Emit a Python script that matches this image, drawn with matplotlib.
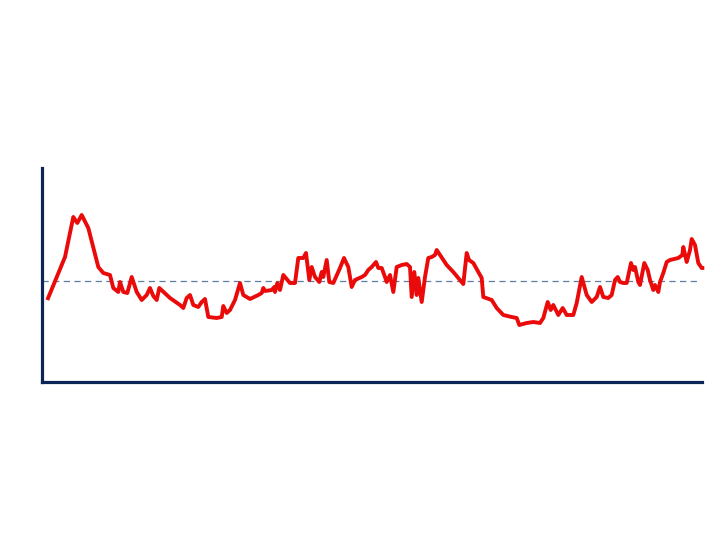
import matplotlib
matplotlib.use("Agg")
import matplotlib.pyplot as plt

# ── Data ──────────────────────────────────────────────────────────────────────
days = [5.3, 23, 31.3, 35.3, 39.7, 46.3, 56.3, 61.3, 68, 71.3, 76.3, 78, 81.3, 85.3,
        89.7, 94.7, 99.7, 104.7, 108, 111.3, 114.7, 117.3, 128, 138, 141.3, 144.7,
        148, 151.3, 156.3, 159.7, 163, 166.3, 174.7, 179.7, 181.3, 184.7, 188, 193,
        198, 201.3, 208, 216.3, 219.7, 221.3, 223, 229.7, 232.3, 233, 235.3, 238,
        241.3, 244.7, 248, 253, 256.3, 261.3, 264, 267.3, 269.7, 273, 277.3, 279.7,
        281.3, 284.7, 287.3, 291.3, 298, 302, 306.3, 309.7, 313, 319.7, 323, 326.3,
        329.7, 334, 336.3, 339.7, 343, 344.7, 348, 351.3, 354.7, 359.7, 364.7, 368,
        369.7, 372.3, 374.7, 376.3, 379.7, 383, 386.3, 389.7, 393, 394.7, 398, 401.3,
        404.7, 411.3, 416.3, 421.3, 424.7, 427, 431.3, 436.3, 439.7, 441.3, 449.7,
        454.7, 461.3, 469.7, 474.7, 477.3, 484.7, 491.3, 498, 501.3, 505.7, 508.7,
        511.3, 516.3, 520.7, 524.7, 531.3, 534.7, 539.7, 544.7, 549.7, 554.7, 558,
        561.3, 566.3, 569.7, 573, 575.7, 578, 581.3, 584.7, 589, 591.3, 593, 596.3,
        598, 602.3, 605.7, 608, 611.3, 613, 616.3, 618, 621.3, 624.7, 628, 636.3,
        640.3, 641.3, 644.7, 648, 649.7, 653, 656.3, 659.7, 662.3]
values = [-1.9, 2.4, 6.4, 5.8, 6.6, 5.3, 1.4, 0.8, 0.6, -0.7, -1.1, -0.1, -1.1, -1.2,
          0.4, -1.1, -1.9, -1.4, -0.7, -1.5, -1.9, -0.7, -1.7, -2.4, -2.7, -1.7,
          -1.4, -2.4, -2.6, -2.1, -1.8, -3.6, -3.7, -3.6, -2.5, -3.2, -2.9, -1.9,
          -0.2, -1.4, -1.8, -1.4, -1.2, -0.7, -1.0, -0.9, -0.6, -1.1, -0.2, -0.9,
          0.6, 0.2, -0.2, -0.2, 2.3, 2.3, 2.8, 0.1, 1.4, 0.4, -0.1, 0.9,
          0.4, 2.1, -0.1, -0.2, 1.3, 2.3, 1.4, -0.6, 0.1, 0.4, 0.6, 1.1,
          1.4, 1.9, 1.3, 1.3, 0.4, -0.1, 0.6, -1.1, 1.4, 1.6, 1.7, 1.4,
          -1.6, 0.9, -1.4, 0.3, -2.1, 0.4, 2.3, 2.4, 2.6, 3.1, 2.6, 2.1,
          1.6, 0.9, 0.3, -0.3, 2.8, 2.1, 1.8, 0.9, 0.3, -1.6, -1.9,
          -2.7, -3.4, -3.6, -3.7, -4.4, -4.2, -4.1, -4.2, -3.7, -2.1, -2.9,
          -2.4, -3.4, -2.7, -3.4, -3.4, -2.2, 0.4, -1.4, -2.1, -1.6, -0.6,
          -1.6, -1.7, -1.4, 0.1, 0.4, -0.1, -0.2, -0.2, 1.8, 1.1, 1.4, -0.1,
          -0.4, 1.8, 1.1, 0.1, -0.9, -0.4, -1.1, -0.1, 0.8, 1.9, 2.1, 2.3,
          2.6, 3.4, 1.9, 3.1, 4.2, 3.6, 1.8, 1.3, 1.3]
baseline = 0.0

NAVY = "#0b2557"
RED = "#ea0a0a"

fig = plt.figure(figsize=(7.2, 5.4), dpi=100)
ax = fig.add_axes([42 / 720, 158 / 540, 660 / 720, 214 / 540])

ax.plot(days, values, color=RED, lw=2.8, solid_joinstyle="round",
        solid_capstyle="butt", clip_on=False, zorder=3)
ax.axhline(baseline, xmin=0, xmax=655 / 660, color="#5e7fa3", lw=0.9,
           linestyle=(0, (5, 3.5)), zorder=2)

ax.set_xlim(0, 660)
ax.set_ylim(-10.1, 11.3)

for side in ("top", "right"):
    ax.spines[side].set_visible(False)
for side in ("left", "bottom"):
    ax.spines[side].set_color(NAVY)
    ax.spines[side].set_linewidth(2.3)
ax.set_xticks([])
ax.set_yticks([])

fig.savefig("out.png", dpi=100)
